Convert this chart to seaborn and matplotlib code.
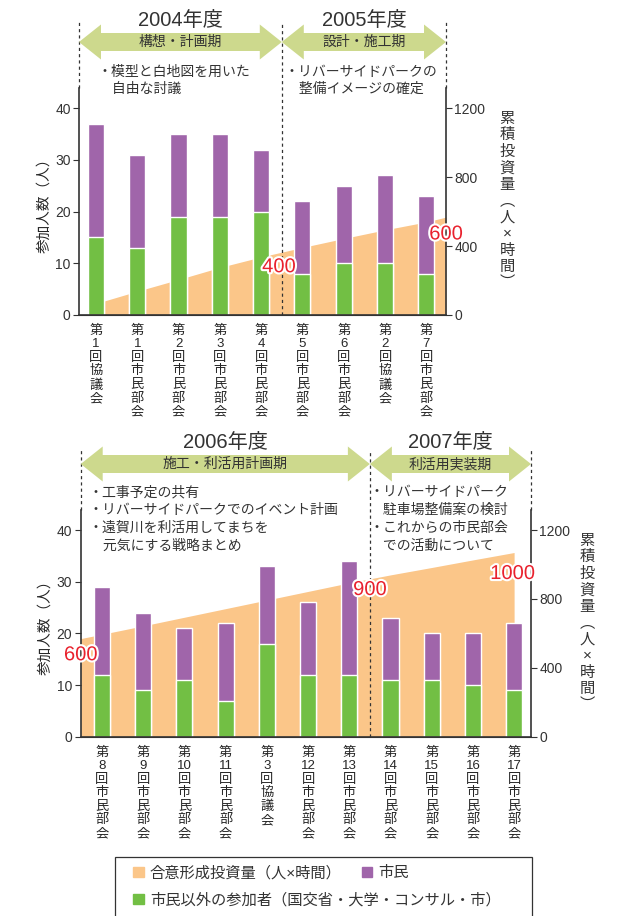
import re
import matplotlib
matplotlib.use("Agg")
import matplotlib.pyplot as plt
import matplotlib.patches as mpatches
import matplotlib.patheffects as pe
import matplotlib.transforms as mtransforms
import seaborn as sns

# ---- data ----
meetings_0405 = ["第1回協議会", "第1回市民部会", "第2回市民部会", "第3回市民部会", "第4回市民部会",
                 "第5回市民部会", "第6回市民部会", "第2回協議会", "第7回市民部会"]
total_0405 = [37, 31, 35, 35, 32, 22, 25, 27, 23]
others_0405 = [15, 13, 19, 19, 20, 8, 10, 10, 8]
invest_0405 = [67, 138, 206, 276, 337, 392, 444, 494, 540]
invest_0405_end = 568

meetings_0607 = ["第8回市民部会", "第9回市民部会", "第10回市民部会", "第11回市民部会", "第3回協議会",
                 "第12回市民部会", "第13回市民部会", "第14回市民部会", "第15回市民部会",
                 "第16回市民部会", "第17回市民部会"]
total_0607 = [29, 24, 21, 22, 33, 26, 34, 23, 20, 20, 22]
others_0607 = [12, 9, 11, 7, 18, 12, 12, 11, 11, 10, 9]
invest_0607_start = 570
invest_0607 = [595, 644, 694, 744, 794, 844, 894, 940, 983, 1027, 1070]

years_0405 = ["2004年度", "2005年度"]
phases_0405 = ["構想・計画期", "設計・施工期"]
years_0607 = ["2006年度", "2007年度"]
phases_0607 = ["施工・利活用計画期", "利活用実装期"]
notes_2004 = ["・模型と白地図を用いた", "　自由な討議"]
notes_2005 = ["・リバーサイドパークの", "　整備イメージの確定"]
notes_2006 = ["・工事予定の共有", "・リバーサイドパークでのイベント計画",
              "・遠賀川を利活用してまちを", "　元気にする戦略まとめ"]
notes_2007 = ["・リバーサイドパーク", "　駐車場整備案の検討", "・これからの市民部会", "　での活動について"]

PURPLE = "#a065aa"
GREEN = "#72bf44"
ORANGE = "#fbc689"
ARROW = "#cdd98d"
RED = "#e9212d"
TXT = "#333333"

sns.set_style("white")
plt.rcParams['font.family'] = ['Liberation Sans', 'Noto Sans CJK JP']
plt.rcParams['text.color'] = TXT
plt.rcParams['axes.edgecolor'] = TXT

W, H = 620, 916
fig = plt.figure(figsize=(W / 100, H / 100), dpi=100)


def fx(px):
    return px / W


def fy(py):
    return 1 - py / H


def vertical(s):
    # stack characters top to bottom, keeping multi-digit numbers on one line
    return "\n".join(re.findall(r"\d+|.", s))


def panel(box, labels, total, others, inv_x, inv_y, xlim, sep, years, phases, arrow_y, year_y, line_top):
    left, top, right, bottom = box
    ax = fig.add_axes([fx(left), fy(bottom), (right - left) / W, (bottom - top) / H])
    ax2 = ax.twinx()
    ax.set_zorder(ax2.get_zorder() + 1)
    ax.patch.set_visible(False)

    ax2.fill_between(inv_x, 0, inv_y, color=ORANGE, lw=0)
    sns.barplot(x=labels, y=total, color=PURPLE, width=0.39, saturation=1, ax=ax)
    sns.barplot(x=labels, y=others, color=GREEN, width=0.39, saturation=1, ax=ax)

    ymax = 43.9
    ax.set_ylim(0, ymax)
    ax2.set_ylim(0, ymax * 30)
    ax.set_xlim(*xlim)
    ax2.set_xlim(*xlim)
    ax.set_yticks([0, 10, 20, 30, 40])
    ax2.set_yticks([0, 400, 800, 1200])
    ax.set_xticks(range(len(labels)))
    ax.set_xticklabels([vertical(s) for s in labels], fontsize=9.5, linespacing=1.17, va="top")
    ax.tick_params(axis="x", length=0, pad=7)
    ax.tick_params(axis="y", length=4, width=0.8, labelsize=10, pad=2, colors=TXT)
    ax2.tick_params(axis="y", length=4, width=0.8, labelsize=10, pad=2, colors=TXT)
    ax.set_xlabel("")
    ax.set_ylabel("参加人数（人）", fontsize=10.5, labelpad=3)

    for a in (ax, ax2):
        a.spines["top"].set_visible(False)
    ax.spines["right"].set_visible(False)
    ax2.spines["left"].set_visible(False)
    for a, s in ((ax, "left"), (ax, "bottom"), (ax2, "right")):
        a.spines[s].set_linewidth(1.2)

    # period boundaries
    frac = (bottom - line_top) / (bottom - top)
    dash = dict(color=TXT, lw=0.9, ls=(0, (2.5, 2.5)), clip_on=False)
    ax.axvline(xlim[0], ymin=1, ymax=frac, **dash)
    ax.axvline(sep, ymin=0, ymax=frac, **dash)
    ax.axvline(xlim[1], ymin=1, ymax=frac, **dash)

    # double arrows with year / phase titles
    tr = mtransforms.blended_transform_factory(ax.transData, fig.transFigure)
    hl = 22 / ((right - left) / (xlim[1] - xlim[0]))
    for (x0, x1), yr, ph in zip(((xlim[0], sep), (sep, xlim[1])), years, phases):
        yc = arrow_y
        pts = [(x0, yc), (x0 + hl, yc - 17.5), (x0 + hl, yc - 9), (x1 - hl, yc - 9),
               (x1 - hl, yc - 17.5), (x1, yc), (x1 - hl, yc + 17.5), (x1 - hl, yc + 9),
               (x0 + hl, yc + 9), (x0 + hl, yc + 17.5)]
        fig.patches.append(mpatches.Polygon([(x, fy(y)) for x, y in pts], closed=True,
                                            transform=tr, facecolor=ARROW, edgecolor="none"))
        xm = (x0 + x1) / 2
        fig.text(xm, fy(year_y), yr, transform=tr, ha="center", va="center", fontsize=14.5)
        fig.text(xm, fy(yc), ph, transform=tr, ha="center", va="center", fontsize=10)
    return ax, ax2


def notes_text(lines, x, y, step):
    for i, ln in enumerate(lines):
        fig.text(fx(x), fy(y + i * step), ln, ha="left", va="center", fontsize=10)


def red(ax, ax2, x, y, s):
    ax.text(x, y, s, transform=ax2.transData, color=RED, fontsize=14.5, ha="center", va="center",
            zorder=10, path_effects=[pe.withStroke(linewidth=3, foreground="white")])


def right_label(x, y):
    fig.text(fx(x), fy(y), "\n".join("累積投資量︵人×時間︶"), ha="center", va="center",
             fontsize=11, linespacing=1.22)


# ---- top panel (2004-2005) ----
xl_top = (-0.41, 8.476)
n0 = len(meetings_0405)
ax, ax2 = panel((79, 88, 446, 315), meetings_0405, total_0405, others_0405,
                list(range(n0)) + [xl_top[1]], invest_0405 + [invest_0405_end],
                xl_top, 4.5, years_0405, phases_0405, 42, 21, 22)
notes_text(notes_2004, 98, 72, 16.5)
notes_text(notes_2005, 285, 72, 16.5)
red(ax, ax2, 4.43, 280, "400")
red(ax, ax2, xl_top[1], 470, "600")
right_label(507, 201)

# ---- bottom panel (2006-2007) ----
xl_bot = (-0.517, 10.41)
n1 = len(meetings_0607)
bx, bx2 = panel((80.7, 510, 531, 736.7), meetings_0607, total_0607, others_0607,
                [xl_bot[0]] + list(range(n1)), [invest_0607_start] + invest_0607,
                xl_bot, 6.5, years_0607, phases_0607, 464, 443, 450)
notes_text(notes_2006, 89, 492, 17.8)
notes_text(notes_2007, 369, 492, 17.8)
red(bx, bx2, xl_bot[0], 476, "600")
red(bx, bx2, 6.5, 855, "900")
red(bx, bx2, 9.96, 948, "1000")
right_label(587, 623)

# ---- legend ----
h_inv = mpatches.Patch(color=ORANGE, label="合意形成投資量（人×時間）")
h_cit = mpatches.Patch(color=PURPLE, label="市民")
h_oth = mpatches.Patch(color=GREEN, label="市民以外の参加者（国交省・大学・コンサル・市）")
kw = dict(frameon=False, fontsize=11, handlelength=0.7, handleheight=0.7, handletextpad=0.4,
          borderpad=0, borderaxespad=0, loc="center left")
fig.legend(handles=[h_inv, h_cit], ncol=2, columnspacing=1.3, bbox_to_anchor=(fx(133), fy(873)), **kw)
fig.legend(handles=[h_oth], bbox_to_anchor=(fx(133), fy(900)), **kw)
fig.patches.append(mpatches.Rectangle((fx(115), -0.01), (532 - 115) / W, fy(857) + 0.01,
                                      transform=fig.transFigure, fill=False, edgecolor=TXT, lw=0.9))

fig.savefig("out.png", dpi=100)
